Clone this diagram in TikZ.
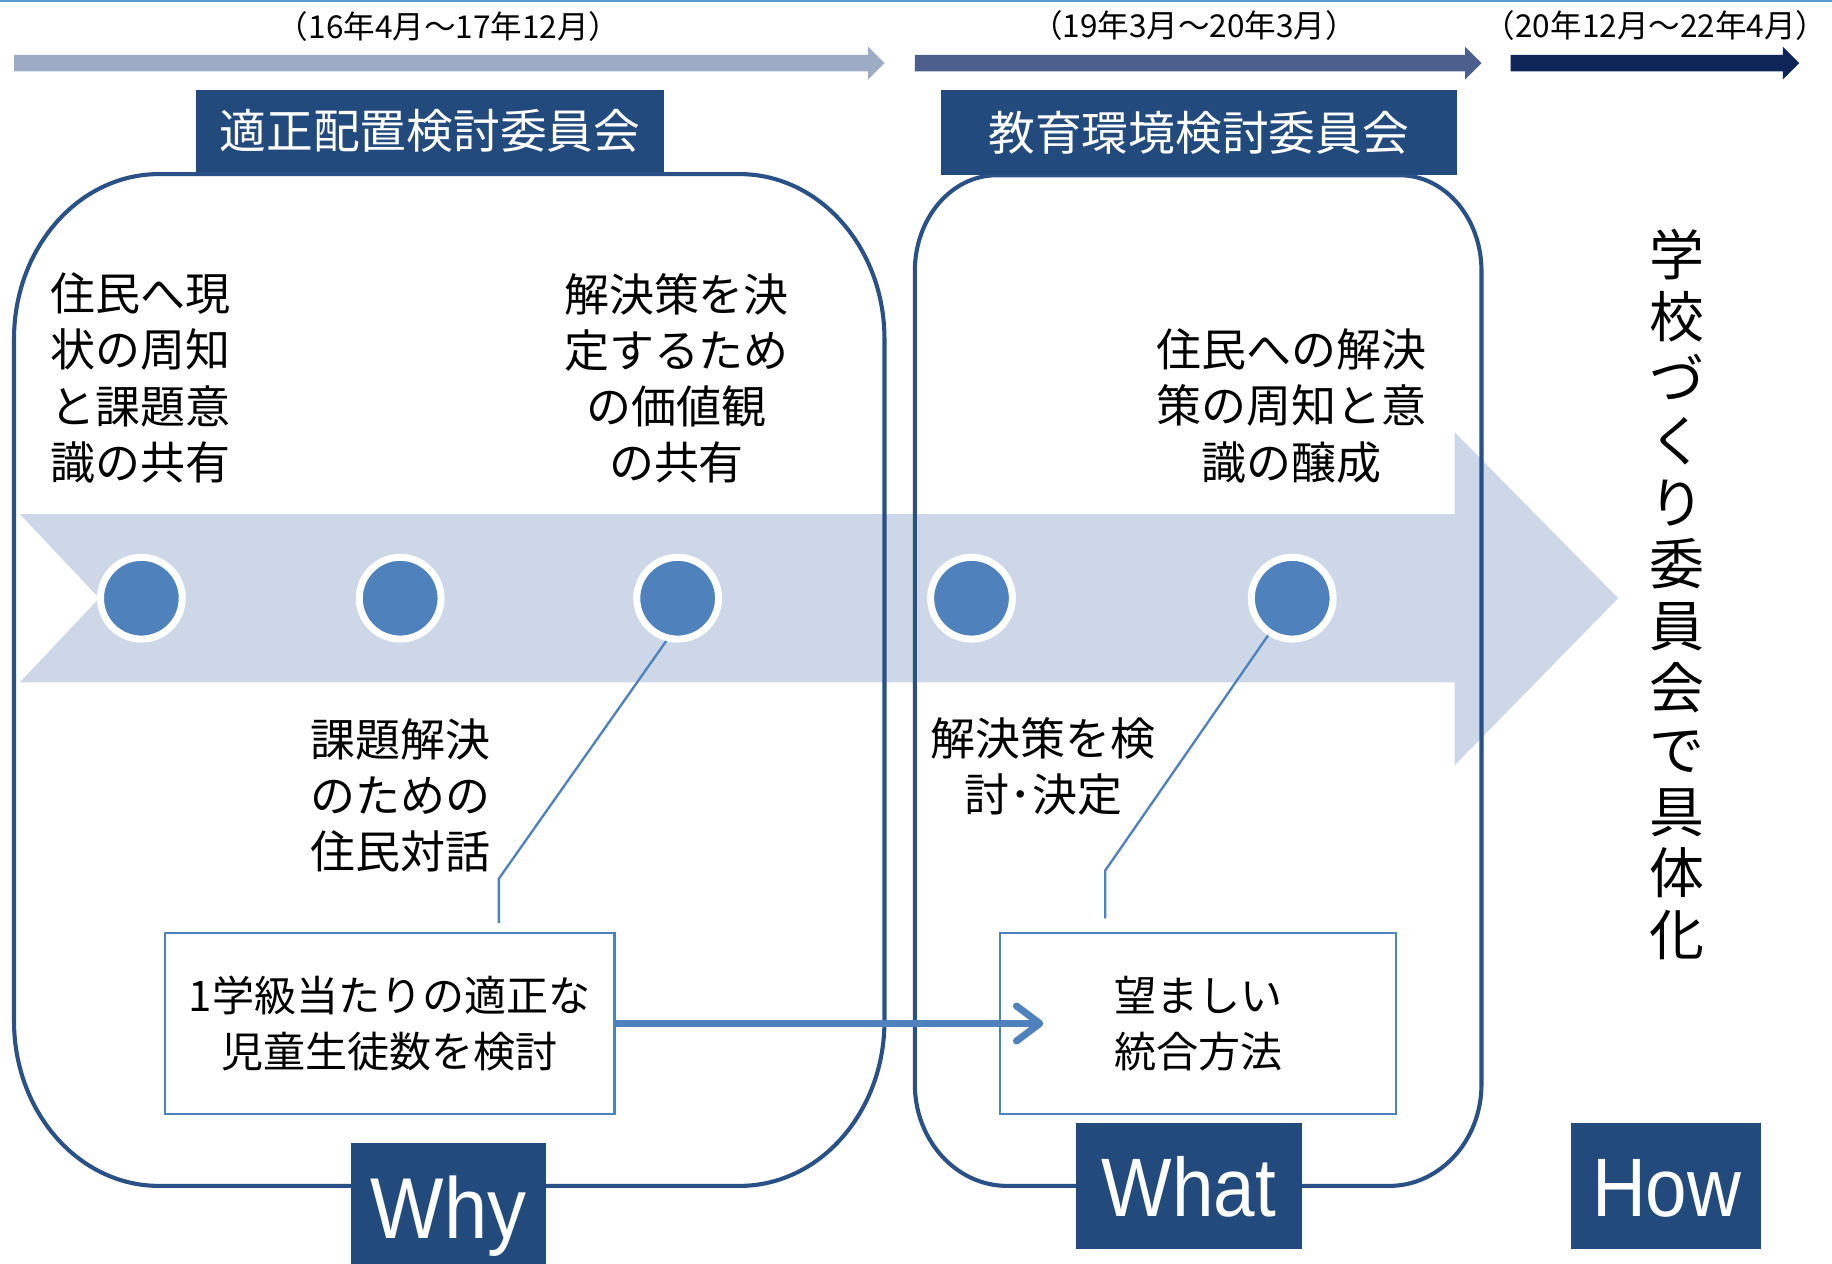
\documentclass[tikz,border=0pt]{standalone}
\usepackage{fontspec}
\setmainfont{Liberation Sans}
\newfontfamily\jp{Noto Sans CJK JP}
\newfontfamily\latn[FakeStretch=0.9]{Liberation Sans}
\usetikzlibrary{arrows.meta}
\definecolor{topblue}{HTML}{5B9BD5}
\definecolor{arrA}{HTML}{9EABC5}
\definecolor{arrB}{HTML}{4C5F8D}
\definecolor{arrC}{HTML}{0F2557}
\definecolor{hdrfill}{HTML}{234A7D}
\definecolor{rboxc}{HTML}{2A5088}
\definecolor{bandc}{HTML}{CDD7E8}
\definecolor{cblue}{HTML}{4F81BD}
\tikzset{
  hdr/.style={rectangle, fill=hdrfill, text=white, inner sep=0pt, font=\jp\fontsize{40}{48}\selectfont},
  tbody/.style={inner sep=0pt, align=center, font=\jp\fontsize{38.5}{48}\selectfont},
  datelab/.style={inner sep=0pt, font=\jp\fontsize{27}{30}\selectfont},
  boxtxt/.style={rectangle, draw=cblue, line width=2pt, fill=white, inner sep=0pt, align=center, font=\jp\fontsize{36}{48}\selectfont},
  circ/.style={circle, fill=cblue, draw=white, line width=6pt, minimum size=70pt, inner sep=0pt},
  conn/.style={draw=cblue, line width=2pt},
  bigarr/.style={draw=cblue, line width=6pt, -{Straight Barb[length=20pt,width=30pt,round]}},
  rbox/.style={draw=rboxc, line width=3.5pt},
  wbox/.style={rectangle, fill=hdrfill, inner sep=0pt},
  wlab/.style={text=white, inner sep=0pt, anchor=base},
}
\begin{document}
\begin{tikzpicture}[x=1pt,y=-1pt]
\useasboundingbox (0,0) rectangle (1568,1081);
\fill[white] (0,0) rectangle (1568,1081);
% top line
\draw[topblue, line width=2pt] (0,1) -- (1568,1);
% top timeline arrows
\fill[arrA] (12,47) -- (743,47) -- (743,40) -- (757,54) -- (743,68) -- (743,61) -- (12,61) -- cycle;
\fill[arrB] (783,47) -- (1254,47) -- (1254,40) -- (1268,54) -- (1254,68) -- (1254,61) -- (783,61) -- cycle;
\fill[arrC] (1293,47) -- (1526,47) -- (1526,40) -- (1540,54) -- (1526,68) -- (1526,61) -- (1293,61) -- cycle;
\node[datelab] (d1) at (384,23) {（16年4月～17年12月）};
\node[datelab] (d2) at (1022,22) {（19年3月～20年3月）};
\node[datelab] (d3) at (1417,22) {（20年12月～22年4月）};
% big chevron band
\fill[bandc] (17,440) -- (1245,440) -- (1245,370) -- (1385,512) -- (1245,655) -- (1245,584) -- (17,584) -- (85,512) -- cycle;
% rounded boxes
\draw[rbox] (12,290) .. controls (12,212.1) and (67.5,149) .. (136,149)
  -- (633,149) .. controls (701.5,149) and (757,212.1) .. (757,290)
  -- (757,874) .. controls (757,951.9) and (701.5,1015) .. (633,1015)
  -- (136,1015) .. controls (67.5,1015) and (12,951.9) .. (12,874) -- cycle;
\draw[rbox] (783,232) .. controls (783,186.7) and (814.3,150) .. (853,150)
  -- (1198,150) .. controls (1236.7,150) and (1268,186.7) .. (1268,232)
  -- (1268,928) .. controls (1268,976) and (1232.6,1015) .. (1189,1015)
  -- (862,1015) .. controls (818.4,1015) and (783,976) .. (783,928) -- cycle;
% headers
\node[hdr, minimum width=400pt, minimum height=70pt] (h1) at (368,112) {適正配置検討委員会};
\node[hdr, minimum width=442pt, minimum height=73pt] (h2) at (1026,113.5) {教育環境検討委員会};
% circles
\node[circ] (c1) at (121,512) {};
\node[circ] (c2) at (342.5,512) {};
\node[circ] (c3) at (580,512) {};
\node[circ] (c4) at (831.5,512) {};
\node[circ] (c5) at (1106,512) {};
% texts
\node[tbody] (t1) at (120,323.5) {住民へ現\\状の周知\\と課題意\\識の共有};
\node[tbody] (t2) at (579,323.5) {解決策を決\\定するため\\の価値観\\の共有};
\node[tbody] (t3) at (343,681) {課題解決\\のための\\住民対話};
\node[tbody] (t4) at (1105,347.5) {住民への解決\\策の周知と意\\識の醸成};
\node[tbody] (t5) at (893,656) {解決策を検\\討･決定};
% inner boxes
\node[boxtxt, minimum width=385pt, minimum height=155pt] (b1) at (333.5,876) {1学級当たりの適正な\\児童生徒数を検討};
\node[boxtxt, minimum width=339pt, minimum height=155pt] (b2) at (1025.5,876) {望ましい\\統合方法};
% connectors
\coordinate (k1) at (427,752);
\coordinate (k1e) at (427,790);
\coordinate (k2) at (946,745);
\coordinate (k2e) at (946,786);
\draw[conn] (c3.255) -- (k1) -- (k1e);
\draw[conn] (c5.237) -- (k2) -- (k2e);
\coordinate (tip) at (893,876);
\draw[bigarr] (b1.east) -- (tip);
% vertical text
\node[inner sep=0pt, align=center, font=\jp\fontsize{47}{52.9}\selectfont] (vt) at (1435,509)
  {学\\校\\づ\\く\\り\\委\\員\\会\\で\\具\\体\\化};
% Why / What / How
\node[wbox, minimum width=167pt, minimum height=112pt] (why) at (383.5,1034) {};
\node[wbox, minimum width=193pt, minimum height=108pt] (what) at (1017.5,1015) {};
\node[wbox, minimum width=162pt, minimum height=108pt] (how) at (1426,1015) {};
\node[wlab, font=\latn\fontsize{74}{80}\selectfont] (whyl) at (384,1060) {Why};
\node[wlab, font=\latn\fontsize{71}{80}\selectfont] (whatl) at (1017.5,1041) {What};
\node[wlab, font=\latn\fontsize{71}{80}\selectfont] (howl) at (1426.5,1041) {How};
\end{tikzpicture}
\end{document}
